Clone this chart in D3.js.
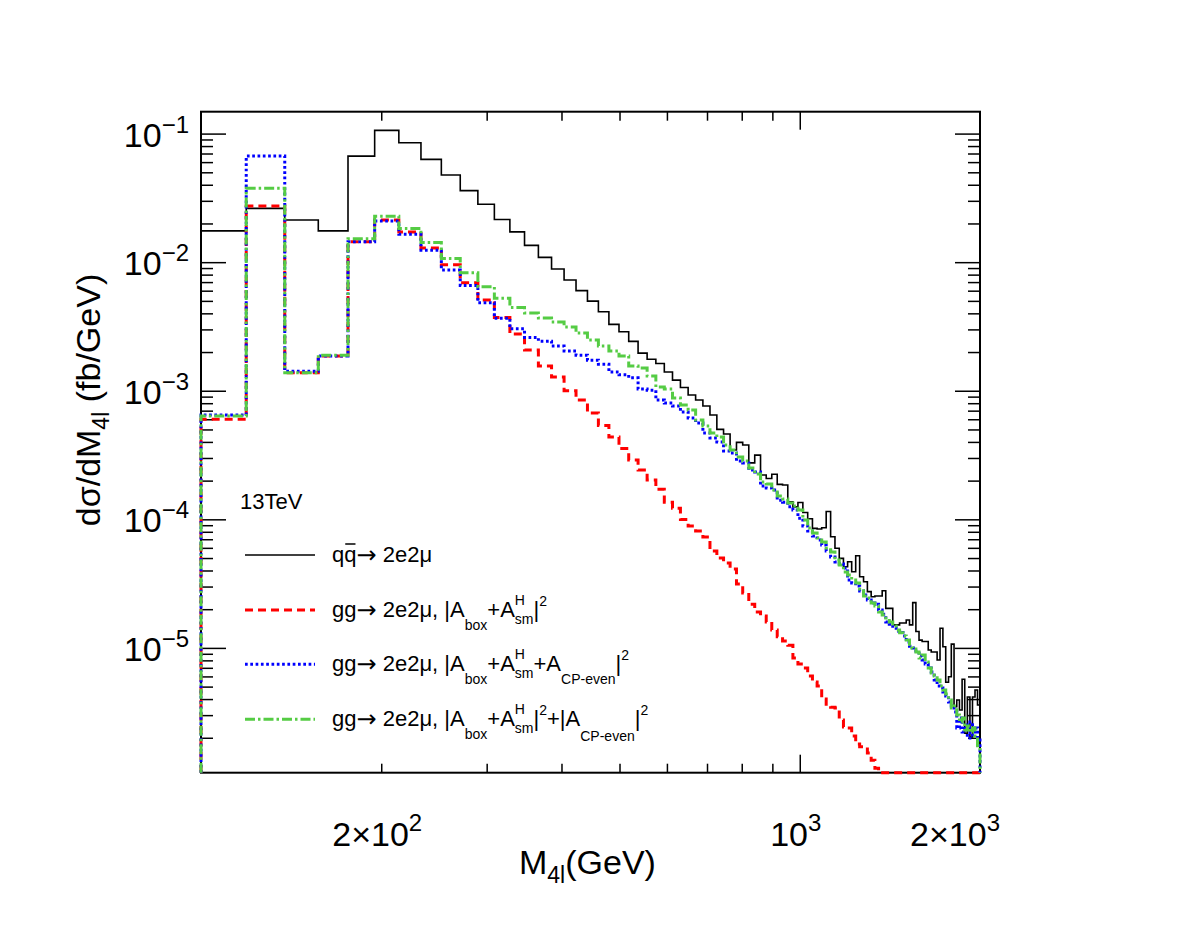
<!DOCTYPE html>
<html lang="en">
<head>
<meta charset="UTF-8">
<title>M4l distribution</title>
<script src="https://cdn.jsdelivr.net/npm/d3@7"></script>
<style>
    body { margin: 0; background: #fff; }
    svg { display: block; font-family: "Liberation Sans", Arial, Helvetica, sans-serif; }
    .axis path { display: none; }
    .axis line { stroke: #000; stroke-width: 1.5; }
</style>
</head>
<body>
<svg width="1182" height="932"></svg>
<script>
    // bin edges in GeV
    var binEdges = [100, 119, 138, 157, 176, 195, 214, 233, 252, 271, 290, 309, 328, 347, 366, 385, 404, 423, 442, 461,
        480, 499, 518, 537, 556, 575, 594, 613, 632, 651, 670, 689, 708, 727, 746, 765, 784, 803, 822, 841,
        860, 879, 898, 917, 936, 955, 974, 993, 1012, 1031, 1050, 1069, 1088, 1107, 1126, 1145, 1164, 1183, 1202, 1221,
        1240, 1259, 1278, 1297, 1316, 1335, 1354, 1373, 1392, 1411, 1430, 1449, 1468, 1487, 1506, 1525, 1544, 1563, 1582, 1601,
        1620, 1639, 1658, 1677, 1696, 1715, 1734, 1753, 1772, 1791, 1810, 1829, 1848, 1867, 1886, 1905, 1924, 1943, 1962, 1981, 2000];

    // qq -> 2e2mu
    var qqbar = [1.75e-2, 2.62e-2, 2.13e-2, 1.75e-2, 6.68e-2, 1.06e-1, 8.48e-2, 6.30e-2, 4.76e-2, 3.60e-2,
        2.82e-2, 2.15e-2, 1.72e-2, 1.35e-2, 1.09e-2, 8.84e-3, 7.26e-3, 6.01e-3, 4.98e-3, 4.11e-3,
        3.28e-3, 2.88e-3, 2.42e-3, 1.96e-3, 1.76e-3, 1.63e-3, 1.40e-3, 1.21e-3, 1.06e-3, 9.26e-4,
        8.47e-4, 7.60e-4, 6.47e-4, 5.01e-4, 4.61e-4, 3.46e-4, 3.97e-4, 3.78e-4, 2.75e-4, 3.16e-4,
        2.21e-4, 2.08e-4, 2.24e-4, 1.87e-4, 1.85e-4, 1.37e-4, 1.25e-4, 1.35e-4, 1.13e-4, 1.01e-4,
        8.51e-5, 8.40e-5, 8.60e-5, 1.15e-4, 7.32e-5, 5.95e-5, 4.97e-5, 4.28e-5, 4.68e-5, 3.91e-5,
        5.21e-5, 3.58e-5, 3.27e-5, 2.74e-5, 2.50e-5, 2.53e-5, 2.53e-5, 2.78e-5, 2.03e-5, 2.03e-5,
        1.51e-5, 1.51e-5, 1.56e-5, 1.56e-5, 1.65e-5, 1.51e-5, 2.25e-5, 1.34e-5, 1.15e-5, 1.12e-5,
        1.12e-5, 9.63e-6, 9.29e-6, 9.29e-6, 8.05e-6, 1.42e-5, 1.02e-5, 5.40e-6, 5.97e-6, 1.07e-5,
        3.49e-6, 3.93e-6, 3.29e-6, 5.70e-6, 2.17e-6, 4.15e-6, 2.03e-6, 4.15e-6, 4.70e-6, 3.60e-6];

    // gg -> 2e2mu, |A_box + A_sm|^2
    var ggSM = [5.99e-4, 2.73e-2, 1.38e-3, 1.86e-3, 1.44e-2, 2.13e-2, 1.72e-2, 1.29e-2, 9.54e-3, 6.92e-3,
        5.07e-3, 3.72e-3, 2.76e-3, 2.07e-3, 1.56e-3, 1.28e-3, 1.00e-3, 8.47e-4, 6.71e-4, 5.36e-4,
        4.37e-4, 3.55e-4, 2.89e-4, 2.42e-4, 2.02e-4, 1.71e-4, 1.36e-4, 1.22e-4, 9.96e-5, 8.87e-5,
        8.11e-5, 7.29e-5, 5.67e-5, 5.00e-5, 4.57e-5, 4.11e-5, 3.14e-5, 2.67e-5, 2.19e-5, 1.90e-5,
        1.77e-5, 1.59e-5, 1.38e-5, 1.22e-5, 1.13e-5, 1.05e-5, 8.35e-6, 7.49e-6, 6.98e-6, 6.05e-6,
        5.43e-6, 5.05e-6, 4.00e-6, 3.53e-6, 3.45e-6, 3.41e-6, 2.75e-6, 2.43e-6, 2.38e-6, 2.06e-6,
        1.79e-6, 1.70e-6, 1.70e-6, 1.52e-6, 1.34e-6, 1.16e-6, 0, 0, 0, 0,
        0, 0, 0, 0, 0, 0, 0, 0, 0, 0,
        0, 0, 0, 0, 0, 0, 0, 0, 0, 0,
        0, 0, 0, 0, 0, 0, 0, 0, 0, 0];

    // gg -> 2e2mu, |A_box + A_sm + A_CP-even|^2
    var ggCPeven = [6.47e-4, 6.68e-2, 1.42e-3, 1.86e-3, 1.44e-2, 2.09e-2, 1.65e-2, 1.24e-2, 8.68e-3, 6.58e-3,
        4.83e-3, 3.66e-3, 3.03e-3, 2.60e-3, 2.43e-3, 2.23e-3, 2.04e-3, 1.89e-3, 1.73e-3, 1.61e-3,
        1.40e-3, 1.33e-3, 1.26e-3, 1.03e-3, 1.01e-3, 8.47e-4, 8.02e-4, 7.60e-4, 6.83e-4, 6.13e-4,
        5.61e-4, 4.69e-4, 4.29e-4, 3.99e-4, 3.40e-4, 3.28e-4, 2.84e-4, 2.74e-4, 2.42e-4, 2.33e-4,
        1.82e-4, 1.75e-4, 1.69e-4, 1.41e-4, 1.36e-4, 1.25e-4, 1.18e-4, 1.02e-4, 8.87e-5, 8.11e-5,
        7.42e-5, 6.90e-5, 6.31e-5, 5.67e-5, 5.09e-5, 4.66e-5, 4.49e-5, 4.18e-5, 3.37e-5, 3.20e-5,
        3.03e-5, 2.77e-5, 2.58e-5, 2.36e-5, 2.23e-5, 2.19e-5, 1.97e-5, 1.83e-5, 1.59e-5, 1.53e-5,
        1.43e-5, 1.35e-5, 1.32e-5, 1.24e-5, 1.11e-5, 1.03e-5, 9.98e-6, 9.46e-6, 8.65e-6, 8.05e-6,
        7.49e-6, 6.98e-6, 6.50e-6, 5.63e-6, 5.05e-6, 4.88e-6, 4.54e-6, 4.23e-6, 3.80e-6, 3.53e-6,
        3.17e-6, 2.38e-6, 2.85e-6, 2.22e-6, 2.51e-6, 1.99e-6, 2.65e-6, 2.10e-6, 2.38e-6, 1.92e-6];

    // gg -> 2e2mu, |A_box + A_sm|^2 + |A_CP-even|^2
    var ggIncoh = [6.36e-4, 3.75e-2, 1.38e-3, 1.89e-3, 1.52e-2, 2.28e-2, 1.83e-2, 1.42e-2, 1.07e-2, 8.27e-3,
        6.44e-3, 5.23e-3, 4.45e-3, 4.02e-3, 3.68e-3, 3.42e-3, 3.13e-3, 2.81e-3, 2.48e-3, 2.23e-3,
        2.04e-3, 1.86e-3, 1.56e-3, 1.50e-3, 1.30e-3, 1.07e-3, 1.03e-3, 8.77e-4, 7.74e-4, 7.08e-4,
        5.92e-4, 5.31e-4, 4.69e-4, 4.37e-4, 3.78e-4, 3.46e-4, 3.05e-4, 2.84e-4, 2.51e-4, 2.25e-4,
        1.95e-4, 1.88e-4, 1.69e-4, 1.52e-4, 1.44e-4, 1.34e-4, 1.27e-4, 1.18e-4, 9.88e-5, 8.56e-5,
        7.82e-5, 7.15e-5, 6.66e-5, 5.98e-5, 5.57e-5, 4.83e-5, 4.41e-5, 3.89e-5, 3.69e-5, 3.37e-5,
        3.20e-5, 2.87e-5, 2.53e-5, 2.44e-5, 2.23e-5, 2.12e-5, 1.90e-5, 1.80e-5, 1.71e-5, 1.59e-5,
        1.48e-5, 1.38e-5, 1.31e-5, 1.24e-5, 1.15e-5, 9.98e-6, 9.80e-6, 9.29e-6, 8.35e-6, 8.81e-6,
        7.77e-6, 6.98e-6, 6.38e-6, 6.05e-6, 5.63e-6, 5.05e-6, 4.70e-6, 4.38e-6, 3.93e-6, 3.41e-6,
        3.53e-6, 3.01e-6, 2.65e-6, 2.85e-6, 2.30e-6, 2.47e-6, 2.22e-6, 2.38e-6, 2.06e-6, 1.73e-6];

    // axis tick labels
    var xLabelValues = [200, 1000, 2000];
    var xLabelBase = ["2\u00d710", "10", "2\u00d710"];
    var xLabelExp = ["2", "3", "3"];
    var yLabelValues = [1e-1, 1e-2, 1e-3, 1e-4, 1e-5];
    var yLabelExp = ["\u22121", "\u22122", "\u22123", "\u22124", "\u22125"];

    var svg = d3.select("svg");
    var frame = {left: 201, right: 980, top: 111.7, bottom: 772.7};
    var yMin = 1.07e-6, yMax = 0.148;

    var x = d3.scaleLog().domain([100, 2000]).range([frame.left, frame.right]);
    var y = d3.scaleLog().domain([yMin, yMax]).range([frame.bottom, frame.top]);

    svg.append("rect").attr("width", 1182).attr("height", 932).attr("fill", "#fff");

    svg.append("clipPath").attr("id", "clip")
        .append("rect")
        .attr("x", frame.left - 2).attr("y", frame.top)
        .attr("width", frame.right - frame.left + 4)
        .attr("height", frame.bottom - frame.top + 3);

    // ticks
    var xMinor = [200, 300, 400, 500, 600, 700, 800, 900];
    var xMajor = [1000];
    var yMajor = yLabelValues;
    var yMinor = [];
    [1e-6, 1e-5, 1e-4, 1e-3, 1e-2, 1e-1].forEach(function (d) {
        for (var k = 2; k <= 9; k++) {
            if (d * k > yMin && d * k < yMax) yMinor.push(d * k);
        }
    });

    function addAxis(axisFn, scale, values, len, tx, ty) {
        svg.append("g").attr("class", "axis")
            .attr("transform", "translate(" + tx + "," + ty + ")")
            .call(axisFn(scale).tickValues(values).tickSize(-len).tickFormat(""));
    }
    addAxis(d3.axisBottom, x, xMinor, 9, 0, frame.bottom);
    addAxis(d3.axisBottom, x, xMajor, 18, 0, frame.bottom);
    addAxis(d3.axisTop, x, xMinor, 9, 0, frame.top);
    addAxis(d3.axisTop, x, xMajor, 18, 0, frame.top);
    addAxis(d3.axisLeft, y, yMinor, 12, frame.left, 0);
    addAxis(d3.axisLeft, y, yMajor, 25, frame.left, 0);
    addAxis(d3.axisRight, y, yMinor, 12, frame.right, 0);
    addAxis(d3.axisRight, y, yMajor, 25, frame.right, 0);

    // frame
    svg.append("rect")
        .attr("x", frame.left).attr("y", frame.top)
        .attr("width", frame.right - frame.left)
        .attr("height", frame.bottom - frame.top)
        .attr("fill", "none").attr("stroke", "#000").attr("stroke-width", 2);

    // histograms
    function histPath(vals) {
        var pts = [[x(binEdges[0]), frame.bottom]];
        vals.forEach(function (v, i) {
            var yy = v > yMin ? y(v) : frame.bottom;
            pts.push([x(binEdges[i]), yy]);
            pts.push([x(binEdges[i + 1]), yy]);
        });
        pts.push([x(binEdges[vals.length]), frame.bottom]);
        return d3.line()(pts);
    }

    var series = [
        {data: qqbar, color: "#000000", width: 1.6, dash: null},
        {data: ggSM, color: "#ff0000", width: 3, dash: "8,5"},
        {data: ggCPeven, color: "#0000ff", width: 3, dash: "2.7,2.6"},
        {data: ggIncoh, color: "#55cc44", width: 3, dash: "10,3,2.5,3"}
    ];

    var plot = svg.append("g").attr("clip-path", "url(#clip)");
    series.forEach(function (s) {
        plot.append("path")
            .attr("d", histPath(s.data))
            .attr("fill", "none")
            .attr("stroke", s.color)
            .attr("stroke-width", s.width)
            .attr("stroke-dasharray", s.dash);
    });

    // tick labels
    yLabelValues.forEach(function (v, i) {
        var t = svg.append("text")
            .attr("x", 189).attr("y", y(v) + 13)
            .attr("text-anchor", "end")
            .style("font-size", "34px");
        t.append("tspan").text("10");
        t.append("tspan").attr("dy", -14).style("font-size", "24px").text(yLabelExp[i]);
    });

    xLabelValues.forEach(function (v, i) {
        var last = i === xLabelValues.length - 1;
        var t = svg.append("text")
            .attr("x", last ? frame.right + 20 : x(v) - 4).attr("y", 846)
            .attr("text-anchor", last ? "end" : "middle")
            .style("font-size", "34px");
        t.append("tspan").text(xLabelBase[i]);
        t.append("tspan").attr("dy", -15).style("font-size", "24px").text(xLabelExp[i]);
    });

    // axis titles
    var xt = svg.append("text").attr("x", 519).attr("y", 874).style("font-size", "34px");
    xt.append("tspan").text("M");
    xt.append("tspan").attr("dy", 9).style("font-size", "23px").text("4l");
    xt.append("tspan").attr("dy", -9).text("(GeV)");

    var yt = svg.append("text")
        .attr("transform", "translate(100,400) rotate(-90)")
        .attr("text-anchor", "middle")
        .style("font-size", "34px");
    yt.append("tspan").text("d\u03c3/dM");
    yt.append("tspan").attr("dy", 9).style("font-size", "23px").text("4l");
    yt.append("tspan").attr("dy", -9).text(" (fb/GeV)");

    // legend
    var leg = svg.append("g");
    leg.append("text").attr("x", 240).attr("y", 509).style("font-size", "22px").text("13TeV");

    function richText(g, x0, y0, parts) {
        var cx = x0, lastStart = x0;
        parts.forEach(function (p) {
            var sx = p.stack ? lastStart : cx;
            var t = g.append("text")
                .attr("x", sx).attr("y", y0 + (p.dy || 0))
                .style("font-size", (p.size || 22) + "px")
                .style("white-space", "pre")
                .text(p.t);
            if (p.family) t.style("font-family", p.family);
            var w = t.node().getComputedTextLength();
            if (p.stack) {
                cx = Math.max(cx, sx + w);
            } else {
                lastStart = sx;
                cx = sx + w;
            }
            p.node = t.node();
        });
        return cx;
    }

    var arrow = {t: "\u2192", family: "DejaVu Sans", size: 24, dy: 1};
    var legendRows = [
        [{t: "qq"}, arrow, {t: "\u00a02e2\u03bc"}],
        [{t: "gg"}, arrow, {t: "\u00a02e2\u03bc, |A"}, {t: "box", size: 14, dy: 13}, {t: "+A"}, {t: "H", size: 14, dy: -12},
            {t: "sm", size: 14, dy: 7, stack: true}, {t: "|"}, {t: "2", size: 14, dy: -11}],
        [{t: "gg"}, arrow, {t: "\u00a02e2\u03bc, |A"}, {t: "box", size: 14, dy: 13}, {t: "+A"}, {t: "H", size: 14, dy: -12},
            {t: "sm", size: 14, dy: 7, stack: true}, {t: "+A"}, {t: "CP-even", size: 14, dy: 13},
            {t: "|"}, {t: "2", size: 14, dy: -11}],
        [{t: "gg"}, arrow, {t: "\u00a02e2\u03bc, |A"}, {t: "box", size: 14, dy: 13}, {t: "+A"}, {t: "H", size: 14, dy: -12},
            {t: "sm", size: 14, dy: 7, stack: true}, {t: "|"}, {t: "2", size: 14, dy: -11}, {t: "+|A"},
            {t: "CP-even", size: 14, dy: 15}, {t: "|"}, {t: "2", size: 14, dy: -11}]
    ];
    var legendY = [555, 610, 664.3, 719.3];

    series.forEach(function (s, i) {
        leg.append("line")
            .attr("x1", 245).attr("x2", 315)
            .attr("y1", legendY[i]).attr("y2", legendY[i])
            .attr("stroke", s.color)
            .attr("stroke-width", s.width)
            .attr("stroke-dasharray", s.dash);
        richText(leg, 332, legendY[i] + 7, legendRows[i]);
    });

    // bar over the second q
    var qNode = legendRows[0][0].node;
    var q0 = qNode.getStartPositionOfChar(1).x, q1 = qNode.getEndPositionOfChar(1).x;
    leg.append("line")
        .attr("x1", q0 + 1).attr("x2", q1 - 1)
        .attr("y1", legendY[0] - 11).attr("y2", legendY[0] - 11)
        .attr("stroke", "#000").attr("stroke-width", 1.5);
</script>
</body>
</html>
